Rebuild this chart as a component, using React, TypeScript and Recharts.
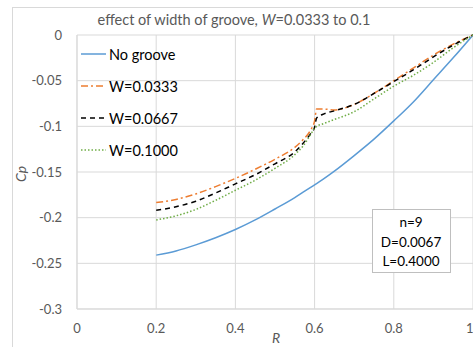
import React from "react";
import {
  CartesianGrid,
  Customized,
  Legend,
  Line,
  LineChart,
  XAxis,
  YAxis,
} from "recharts";

const FONT = "Lato, 'Open Sans', sans-serif";

const rValues = [
  0.2, 0.25, 0.3, 0.35, 0.4, 0.45, 0.5, 0.55, 0.57, 0.59, 0.6, 0.605, 0.62,
  0.65, 0.7, 0.75, 0.8, 0.85, 0.9, 0.95, 1.0,
];

const noGroove = [
  -0.241, -0.2365, -0.2298, -0.222, -0.213, -0.2025, -0.1905, -0.178, -0.1724,
  -0.1668, -0.164, -0.1626, -0.1583, -0.149, -0.132, -0.114, -0.094, -0.073,
  -0.049, -0.025, 0,
];

const w0333 = [
  -0.1835, -0.18, -0.174, -0.166, -0.157, -0.147, -0.136, -0.123, -0.115,
  -0.104, -0.094, -0.081, -0.081, -0.082, -0.076, -0.064, -0.05, -0.036,
  -0.022, -0.01, 0,
];

const w0667 = [
  -0.192, -0.188, -0.182, -0.173, -0.163, -0.153, -0.141, -0.128, -0.119,
  -0.108, -0.101, -0.091, -0.087, -0.083, -0.076, -0.064, -0.051, -0.038,
  -0.024, -0.011, 0,
];

const w1000 = [
  -0.2025, -0.198, -0.191, -0.181, -0.17, -0.159, -0.146, -0.131, -0.122,
  -0.109, -0.102, -0.1, -0.0975, -0.0925, -0.084, -0.07, -0.056, -0.044,
  -0.03, -0.014, 0,
];

const xTicks = [0, 0.2, 0.4, 0.6, 0.8, 1];
const yTicks = [0, -0.05, -0.1, -0.15, -0.2, -0.25, -0.3];

const boxLines = ["n=9", "D=0.0067", "L=0.4000"];

const series = [
  { key: "noGroove", name: "No groove", color: "#5B9BD5", dash: undefined },
  { key: "w0333", name: "W=0.0333", color: "#ED7D31", dash: "7 3 2 3" },
  { key: "w0667", name: "W=0.0667", color: "#000000", dash: "5 4" },
  { key: "w1000", name: "W=0.1000", color: "#70AD47", dash: "1.5 2" },
];

const data = rValues.map((r, i) => ({
  r,
  noGroove: noGroove[i],
  w0333: w0333[i],
  w0667: w0667[i],
  w1000: w1000[i],
}));

const LegendContent = () => (
  <div style={{ fontFamily: FONT, fontSize: 14.5, color: "#000" }}>
    {series.map((s) => (
      <div
        key={s.key}
        style={{ display: "flex", alignItems: "center", height: 32 }}
      >
        <svg width={26} height={10}>
          <line
            x1={0}
            y1={5}
            x2={25}
            y2={5}
            stroke={s.color}
            strokeWidth={1.5}
            strokeDasharray={s.dash}
          />
        </svg>
        <span style={{ marginLeft: 2 }}>{s.name}</span>
      </div>
    ))}
  </div>
);

const Overlay = () => (
  <g>
    <rect
      x={12.5}
      y={7.5}
      width={500}
      height={400}
      fill="none"
      stroke="#d9d9d9"
    />
    <text
      x={234}
      y={25}
      textAnchor="middle"
      fill="#595959"
      fontFamily={FONT}
      fontSize={14.5}
    >
      effect of width of groove, <tspan fontStyle="italic">W</tspan>=0.0333 to
      0.1
    </text>
    <text
      x={26}
      y={174}
      textAnchor="middle"
      transform="rotate(-90 26 174)"
      fill="#595959"
      fontFamily={FONT}
      fontSize={14}
      fontStyle="italic"
    >
      Cp
    </text>
    <text
      x={276}
      y={343}
      textAnchor="middle"
      fill="#595959"
      fontFamily={FONT}
      fontSize={14}
      fontStyle="italic"
    >
      R
    </text>
    <rect
      x={372.5}
      y={209.5}
      width={78}
      height={63}
      fill="#fff"
      stroke="#bfbfbf"
    />
    {boxLines.map((t, i) => (
      <text
        key={t}
        x={411}
        y={227 + i * 19.5}
        textAnchor="middle"
        fill="#000"
        fontFamily={FONT}
        fontSize={13.5}
      >
        {t}
      </text>
    ))}
  </g>
);

const App = () => {
  return (
    <div style={{ position: "absolute", left: 0, top: 0 }}>
      <LineChart
        width={473}
        height={347}
        data={data}
        margin={{ top: 35, right: 0, bottom: 0, left: 0 }}
      >
        <Customized component={Overlay} />
        <CartesianGrid stroke="#d9d9d9" />
        <XAxis
          dataKey="r"
          type="number"
          domain={[0, 1]}
          ticks={xTicks}
          height={38}
          tickLine={false}
          tickSize={0}
          tickMargin={15}
          axisLine={{ stroke: "#d9d9d9" }}
          tick={{ fill: "#595959", fontFamily: FONT, fontSize: 13 }}
        />
        <YAxis
          type="number"
          domain={[-0.3, 0]}
          ticks={yTicks}
          width={77}
          tickLine={false}
          tickSize={0}
          tickMargin={15}
          axisLine={{ stroke: "#d9d9d9" }}
          tick={{ fill: "#595959", fontFamily: FONT, fontSize: 13 }}
        />
        {series.map((s) => (
          <Line
            key={s.key}
            dataKey={s.key}
            name={s.name}
            type="monotone"
            stroke={s.color}
            strokeWidth={1.5}
            strokeDasharray={s.dash}
            dot={false}
            isAnimationActive={false}
          />
        ))}
        <Legend
          layout="vertical"
          align="center"
          verticalAlign="middle"
          content={<LegendContent />}
          wrapperStyle={{ left: 81, top: 38, width: "auto" }}
        />
      </LineChart>
    </div>
  );
};

export default App;
